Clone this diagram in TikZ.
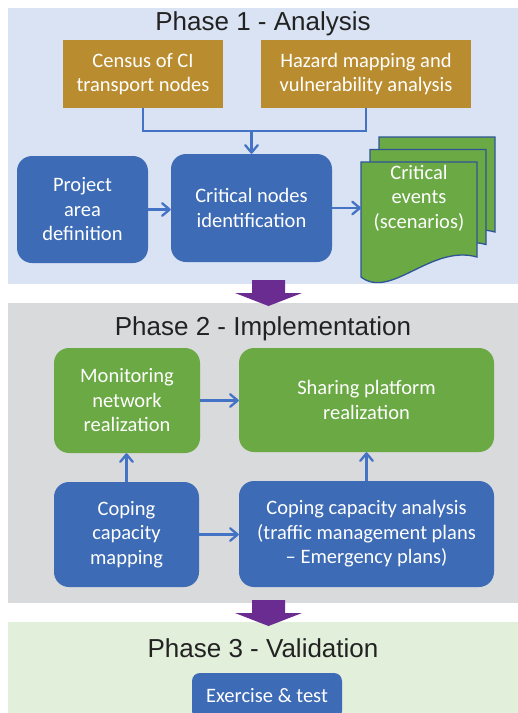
\documentclass[tikz,border=0pt]{standalone}
\usepackage{fontspec}
\setmainfont{Carlito}
\newfontfamily\titlefont{Liberation Sans}
\usetikzlibrary{arrows.meta}
\definecolor{panelblue}{HTML}{DAE3F3}
\definecolor{panelgray}{HTML}{D9DADC}
\definecolor{panelgreen}{HTML}{E2EFDA}
\definecolor{boxblue}{HTML}{3D6BB5}
\definecolor{boxgreen}{HTML}{6AA944}
\definecolor{boxgold}{HTML}{B98C2F}
\definecolor{linkblue}{HTML}{4472C4}
\definecolor{docedge}{HTML}{2F5597}
\definecolor{phasearrow}{HTML}{6B2C91}
\definecolor{titlegray}{HTML}{222222}

\begin{document}
\begin{tikzpicture}[x=1pt,y=-1pt,
  boxtext/.style={text=white, align=center, inner sep=0pt,
    font=\fontsize{20.5}{24.5}\selectfont},
  bluebox/.style={boxtext, fill=boxblue, rounded corners=15pt},
  greenbox/.style={boxtext, fill=boxgreen, rounded corners=15pt},
  goldbox/.style={boxtext, fill=boxgold},
  phasetitle/.style={text=titlegray, anchor=base, inner sep=0pt,
    font=\titlefont\fontsize{26}{30}\selectfont},
  plainlink/.style={draw=linkblue, line width=2.3pt},
  link/.style={plainlink, -{Straight Barb[length=7.5pt,width=12.5pt,round]}},
  doc/.style={fill=boxgreen, draw=docedge, line width=1.3pt},
  phasearrowfill/.style={fill=phasearrow}
]
\clip (0,0) rectangle (518,713);
\fill[white] (0,0) rectangle (518,713);

% phase panels
\fill[panelblue]  (8,8)   rectangle (518,284);
\fill[panelgray]  (8,303) rectangle (518,603);
\fill[panelgreen] (8,622) rectangle (518,713);

% ---------- Phase 1 ----------
\node[phasetitle] (t1) at (263,30) {Phase 1 - Analysis};
\node[goldbox, minimum width=160pt, minimum height=68pt] (census) at (143,74)
  {Census of CI\\transport nodes};
\node[goldbox, minimum width=210pt, minimum height=68pt] (hazard) at (366,74)
  {Hazard mapping and\\vulnerability analysis};
\node[bluebox, minimum width=131pt, minimum height=107pt] (proj) at (82.5,209.5)
  {Project\\area\\definition};
\node[bluebox, minimum width=161pt, minimum height=108pt] (crit) at (251.5,208)
  {Critical nodes\\identification};

% stacked documents
\foreach \dx/\dy in {379/137, 370/149.5, 361/162}{
  \begin{scope}[shift={(\dx,\dy)}]
    \draw[doc] (0,0) -- (116,0) -- (116,95)
      .. controls (70,82) and (30,138) .. (0,115) -- cycle;
  \end{scope}
}
\node[boxtext] (events) at (419,198) {Critical\\events\\(scenarios)};
\coordinate (docin) at (361,209);

\coordinate (junc) at (251.5,131);
\draw[plainlink] (census.south) |- (junc) -| (hazard.south);
\draw[link] (junc) -- (crit.north);
\draw[link] (proj.east) -- (proj.east -| crit.west);
\draw[link] (crit.east) -- (crit.east -| docin);

% ---------- Phase 2 ----------
\node[phasetitle] (t2) at (263,335) {Phase 2 - Implementation};
\node[greenbox, minimum width=146pt, minimum height=105pt] (mon) at (127,400.5)
  {Monitoring\\network\\realization};
\node[greenbox, minimum width=255pt, minimum height=104pt] (share) at (366.5,400)
  {Sharing platform\\realization};
\node[bluebox, minimum width=145pt, minimum height=105pt] (cmap) at (126.5,534.5)
  {Coping\\capacity\\mapping};
\node[bluebox, minimum width=255pt, minimum height=106pt] (cana) at (366.5,534)
  {Coping capacity analysis\\(traffic management plans\\-- Emergency plans)};

\draw[link] (mon.east) -- (mon.east -| share.west);
\draw[link] (cmap.north) -- (cmap.north |- mon.south);
\draw[link] (cana.north) -- (cana.north |- share.south);
\draw[link] (cmap.east) -- (cmap.east -| cana.west);

% ---------- Phase 3 ----------
\node[phasetitle] (t3) at (263,657) {Phase 3 - Validation};
\node[boxtext, fill=boxblue, rounded corners=8pt,
  minimum width=150pt, minimum height=46pt] (exer) at (267,696) {Exercise \& test};

% arrows between phases
\fill[phasearrowfill] (252,280) -- (285,280) -- (285,293) -- (302,293)
  -- (268.5,306) -- (235,293) -- (252,293) -- cycle;
\fill[phasearrowfill] (252,600) -- (285,600) -- (285,613) -- (302,613)
  -- (268.5,626) -- (235,613) -- (252,613) -- cycle;
\end{tikzpicture}
\end{document}
